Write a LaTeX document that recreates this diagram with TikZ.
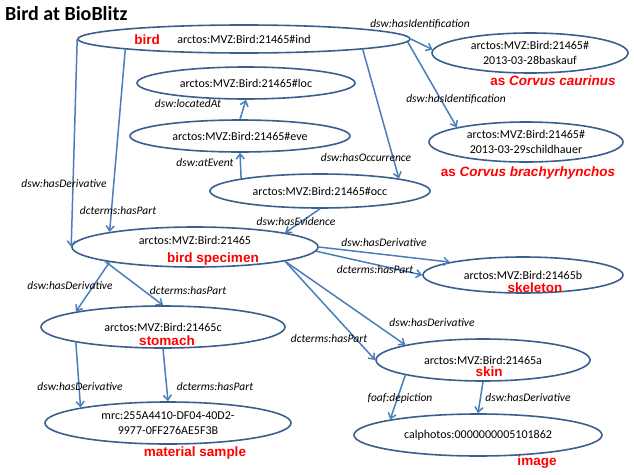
\documentclass[tikz,border=0pt]{standalone}
\usepackage{fontspec}
\setmainfont{Carlito}
\newfontfamily\arialfont{Liberation Sans}
\usetikzlibrary{arrows.meta,shapes.geometric}
\definecolor{ellcol}{HTML}{3A5F8E}
\definecolor{arrcol}{HTML}{4A7EBB}
\definecolor{redlab}{HTML}{FF0000}
\begin{document}
\begin{tikzpicture}[x=1pt,y=-1pt,
 ell/.style={draw=ellcol, line width=1.6pt, ellipse, inner sep=0pt, align=center,
   font=\fontsize{12}{14.5}\selectfont},
 rel/.style={font=\fontsize{11.5}{13}\selectfont\itshape, inner sep=0pt},
 tag/.style={font=\arialfont\bfseries\fontsize{13.5}{15}\selectfont, text=redlab, inner sep=0pt},
 arr/.style={draw=arrcol, line width=1.5pt, -{Straight Barb[length=5pt,width=8pt]}},
]
\useasboundingbox (0,0) rectangle (634,474);
\node[anchor=base west, inner sep=0pt, font=\bfseries\fontsize{20}{24}\selectfont] (title) at (5,20) {Bird at BioBlitz};

% ellipses
\node[ell, minimum width=332pt, minimum height=28pt] (ind) at (244,39) {arctos:MVZ:Bird:21465\#ind};
\node[ell, minimum width=218pt, minimum height=32pt] (loc) at (246,83) {arctos:MVZ:Bird:21465\#loc};
\node[ell, minimum width=220pt, minimum height=32pt] (eve) at (240,136) {arctos:MVZ:Bird:21465\#eve};
\node[ell, minimum width=220pt, minimum height=34pt] (occ) at (320,191) {arctos:MVZ:Bird:21465\#occ};
\node[ell, minimum width=246pt, minimum height=40pt] (spec) at (195,247) {arctos:MVZ:Bird:21465\\[-2pt]\mbox{}};
\node[ell, minimum width=196pt, minimum height=40pt] (id1) at (530,53) {arctos:MVZ:Bird:21465\#\\2013-03-28baskauf};
\node[ell, minimum width=194pt, minimum height=40pt] (id2) at (526,142) {arctos:MVZ:Bird:21465\#\\2013-03-29schildhauer};
\node[ell, minimum width=200pt, minimum height=36pt] (skel) at (523,275) {arctos:MVZ:Bird:21465b};
\node[ell, minimum width=244pt, minimum height=42pt] (stom) at (163,327) {arctos:MVZ:Bird:21465c};
\node[ell, minimum width=246pt, minimum height=42pt] (mat) at (168,423) {mrc:255A4410-DF04-40D2-\\9977-0FF276AE5F3B};
\node[ell, minimum width=214pt, minimum height=42pt] (skin) at (483,360) {arctos:MVZ:Bird:21465a};
\node[ell, minimum width=248pt, minimum height=42pt] (cal) at (478,435) {calphotos:0000000005101862};

% red tags
\node[tag] (tbird) at (147,40) {bird};
\node[tag] (tcaur) at (553,81) {as \textit{Corvus caurinus}};
\node[tag] (tbrach) at (528,173) {as \textit{Corvus brachyrhynchos}};
\node[tag] (tspec) at (213,259) {bird specimen};
\node[tag] (tskel) at (535,288) {skeleton};
\node[tag] (tstom) at (167,341) {stomach};
\node[tag] (tmat) at (195,453) {material sample};
\node[tag] (tskin) at (489,372) {skin};
\node[tag] (timg) at (537,462) {image};

% connectors
\draw[arr] (ind.0) -- (id1.178);
\draw[arr] (ind.-1) -- (id2.168);
\draw[arr] (ind.-5) -- (occ.9);
\draw[arr] (eve.north) -- (loc.south);
\draw[arr] (occ.171) -- (eve.south);
\draw[arr] (occ.south) -- (spec.9);
\draw[arr] (ind.west) -- (spec.west);
\draw[arr] (ind.185) -- (spec.170);
\draw[arr] (spec.190) -- (stom.170);
\draw[arr] (spec.189) -- (stom.north);
\draw[arr] (spec.0) -- (skel.170);
\draw[arr] (spec.-2) -- (skel.west);
\draw[arr] (spec.-9) -- (skin.west);
\draw[arr] (spec.-9) -- (skin.169);
\draw[arr] (stom.190) -- (mat.170);
\draw[arr] (stom.south) -- (mat.north);
\draw[arr] (skin.191) -- (cal.170);
\draw[arr] (skin.south) -- (cal.north);

% relation labels
\node[rel] (l1) at (420,24) {dsw:hasIdentification};
\node[rel] (l2) at (456,99) {dsw:hasIdentification};
\node[rel] (l3) at (366,158) {dsw:hasOccurrence};
\node[rel] (l4) at (188,104) {dsw:locatedAt};
\node[rel] (l5) at (205,163) {dsw:atEvent};
\node[rel] (l6) at (296,222) {dsw:hasEvidence};
\node[rel] (l7) at (64,184) {dsw:hasDerivative};
\node[rel] (l8) at (118,211) {dcterms:hasPart};
\node[rel] (l9) at (70,286) {dsw:hasDerivative};
\node[rel] (l10) at (188,291) {dcterms:hasPart};
\node[rel] (l11) at (384,243) {dsw:hasDerivative};
\node[rel] (l12) at (375,270) {dcterms:hasPart};
\node[rel] (l13) at (329,339) {dcterms:hasPart};
\node[rel] (l14) at (432,323) {dsw:hasDerivative};
\node[rel] (l15) at (80,387) {dsw:hasDerivative};
\node[rel] (l16) at (215,387) {dcterms:hasPart};
\node[rel] (l17) at (400,398) {foaf:depiction};
\node[rel] (l18) at (528,398) {dsw:hasDerivative};
\end{tikzpicture}
\end{document}
